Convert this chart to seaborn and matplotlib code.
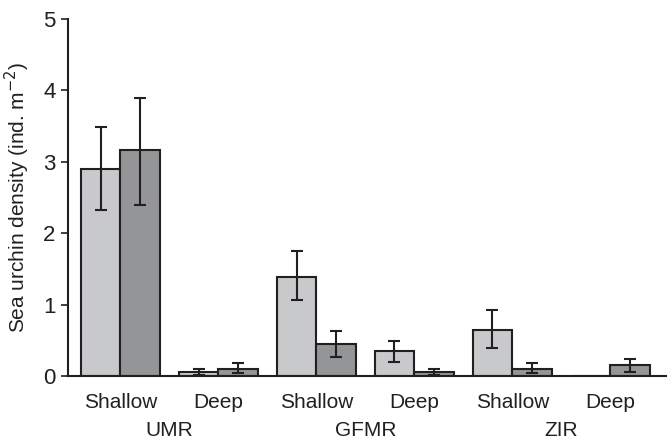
import pandas as pd
import seaborn as sns
import matplotlib.pyplot as plt
import matplotlib.transforms as mtransforms

# Data
groups = ['UMR', 'UMR', 'GFMR', 'GFMR', 'ZIR', 'ZIR']
depths = ['Shallow', 'Deep', 'Shallow', 'Deep', 'Shallow', 'Deep']
series_a = [2.90, 0.06, 1.39, 0.355, 0.65, 0.0]
series_a_err_hi = [3.49, 0.10, 1.75, 0.49, 0.925, 0.0]
series_a_err_lo = [2.32, 0.02, 1.06, 0.20, 0.39, 0.0]
series_b = [3.16, 0.10, 0.45, 0.06, 0.10, 0.16]
series_b_err_hi = [3.90, 0.18, 0.63, 0.10, 0.18, 0.24]
series_b_err_lo = [2.39, 0.04, 0.27, 0.02, 0.04, 0.06]
group_labels = ['UMR', 'GFMR', 'ZIR']

cats = [f'{g}_{d}' for g, d in zip(groups, depths)]
df = pd.DataFrame({
    'cat': cats * 2,
    'value': series_a + series_b,
    'hi': series_a_err_hi + series_b_err_hi,
    'lo': series_a_err_lo + series_b_err_lo,
    'series': ['A'] * 6 + ['B'] * 6,
})

sns.set_style('ticks')
plt.rcParams['font.family'] = ['Liberation Sans', 'DejaVu Sans']

fig = plt.figure(figsize=(6.67, 4.43), dpi=100)
ax = fig.add_axes([0.102, 0.151, 0.898, 0.806])

sns.barplot(data=df, x='cat', y='value', hue='series', order=cats,
            palette={'A': '#c8c9cb', 'B': '#939598'}, width=0.81,
            edgecolor='#231f20', linewidth=1.5, errorbar=None, ax=ax, legend=False)

# error bars at bar centres
for cont, ser in zip(ax.containers, ['A', 'B']):
    sub = df[df['series'] == ser].set_index('cat').loc[cats]
    xs = [p.get_x() + p.get_width() / 2 for p in cont.patches]
    for x, v, hi, lo in zip(xs, sub['value'], sub['hi'], sub['lo']):
        if hi - lo <= 0:
            continue
        ax.errorbar(x, v, yerr=[[v - lo], [hi - v]], fmt='none',
                    ecolor='#231f20', elinewidth=1.5, capsize=4.5, capthick=1.5)

ax.set_xlim(-0.535, 5.58)
ax.set_ylim(0, 5)
ax.set_yticks([0, 1, 2, 3, 4, 5])
ax.set_xticks(range(6))
ax.set_xticklabels(depths)
ax.tick_params(axis='x', length=0, pad=12, labelsize=15, colors='#231f20')
ax.tick_params(axis='y', length=5, width=1.2, pad=4, labelsize=16, colors='#231f20')
ax.set_xlabel('')
ax.set_ylabel('Sea urchin density (ind. m$^{-2}$)', fontsize=15, color='#231f20', labelpad=8)
for s in ['left', 'bottom']:
    ax.spines[s].set_linewidth(1.5)
    ax.spines[s].set_color('#231f20')
sns.despine(ax=ax)

trans = mtransforms.blended_transform_factory(ax.transData, ax.transAxes)
for i, lab in enumerate(group_labels):
    ax.text(2 * i + 0.5, -0.151, lab, transform=trans, ha='center', va='center',
            fontsize=15, color='#231f20')

fig.savefig('out.png', dpi=100)
